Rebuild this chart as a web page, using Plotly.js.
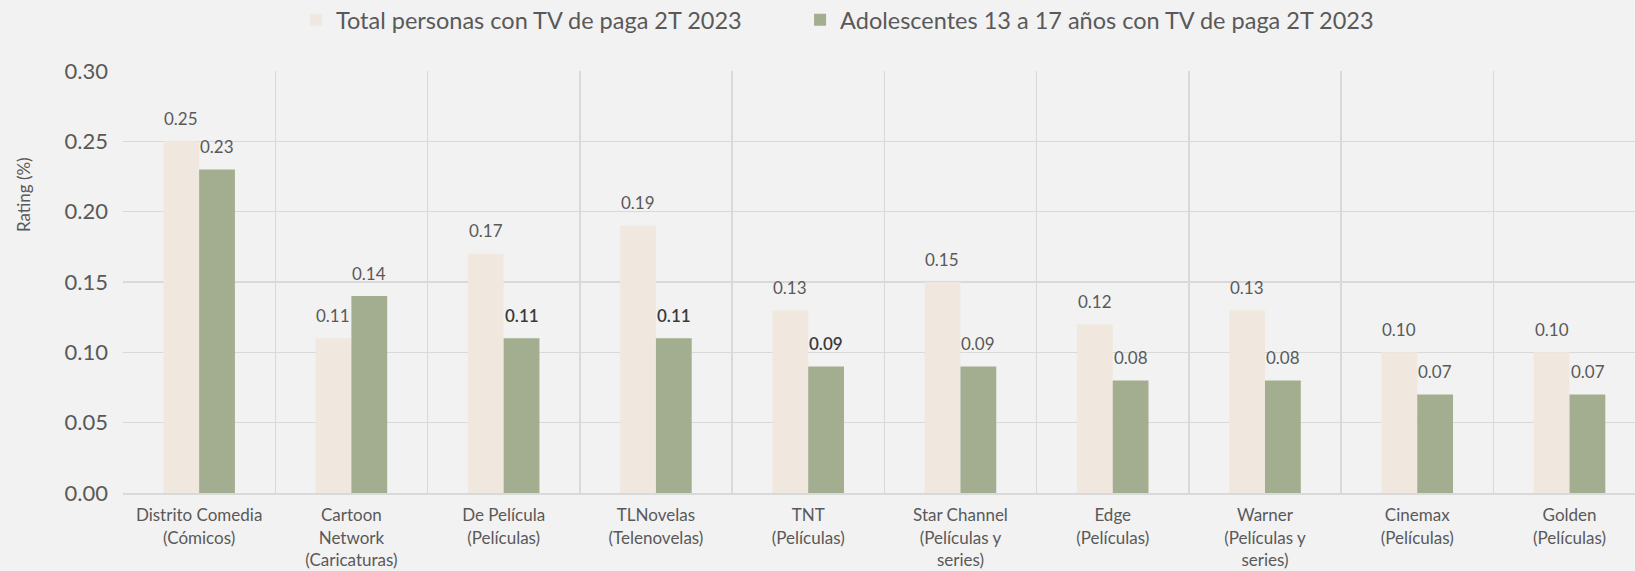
<!DOCTYPE html>
<html>
<head>
<meta charset="utf-8">
<script src="https://cdn.plot.ly/plotly-3.0.1.min.js"></script>
<style>
html,body{margin:0;padding:0;background:#f2f2f2;}
#chart{width:1635px;height:571px;}
</style>
</head>
<body>
<div id="chart"></div>
<script>
const categories = [
  "Distrito Comedia<br>(Cómicos)",
  "Cartoon<br>Network<br>(Caricaturas)",
  "De Película<br>(Películas)",
  "TLNovelas<br>(Telenovelas)",
  "TNT<br>(Películas)",
  "Star Channel<br>(Películas y<br>series)",
  "Edge<br>(Películas)",
  "Warner<br>(Películas y<br>series)",
  "Cinemax<br>(Películas)",
  "Golden<br>(Películas)"
];
const seriesNames = [
  "Total personas con TV de paga 2T 2023",
  "Adolescentes 13 a 17 años con TV de paga 2T 2023"
];
const totalValues = [0.25, 0.11, 0.17, 0.19, 0.13, 0.15, 0.12, 0.13, 0.10, 0.10];
const teenValues  = [0.23, 0.14, 0.11, 0.11, 0.09, 0.09, 0.08, 0.08, 0.07, 0.07];
const yTicks = [0, 0.05, 0.10, 0.15, 0.20, 0.25, 0.30];
const yTitle = "Rating (%)";

const colTotal = "#f0e8de";
const colTeen = "#a3ad8f";
const textCol = "#595959";
const fontFam = "Lato, 'Open Sans', sans-serif";

const traces = [
  {type:"bar", name:seriesNames[0], x:categories, y:totalValues,
   marker:{color:colTotal}, hoverinfo:"y", legend:"legend"},
  {type:"bar", name:seriesNames[1], x:categories, y:teenValues,
   marker:{color:colTeen}, hoverinfo:"y", legend:"legend2"},
  {type:"scatter", x:[], y:[], xaxis:"x2", showlegend:false, hoverinfo:"skip"}
];

const darkTeen = [2, 3, 4];
const annotations = [];
categories.forEach((c, i) => {
  annotations.push({x:c, y:totalValues[i], xref:"x", yref:"y", text:totalValues[i].toFixed(2),
    showarrow:false, xshift:-18, yshift:23, yanchor:"middle",
    font:{family:fontFam, size:17, color:textCol}});
  const dark = darkTeen.includes(i);
  annotations.push({x:c, y:teenValues[i], xref:"x", yref:"y", text:teenValues[i].toFixed(2),
    showarrow:false, xshift:18, yshift:23, yanchor:"middle",
    font:{family:fontFam, size:17, color:dark ? "#3a3a3a" : textCol, weight: dark ? 600 : 400}});
});
annotations.push({text:yTitle, xref:"paper", yref:"paper", x:0, y:0.706, xshift:-100,
  xanchor:"center", yanchor:"middle", textangle:-90, showarrow:false,
  font:{family:fontFam, size:17, color:textCol}});

const legendBase = {orientation:"h", y:0.965, yanchor:"middle", yref:"container", xanchor:"left",
  font:{family:fontFam, size:23.5, color:textCol}, itemwidth:30, bgcolor:"rgba(0,0,0,0)"};

const xr = [-0.5, 9.43];
const layout = {
  width:1635, height:571,
  paper_bgcolor:"#f2f2f2", plot_bgcolor:"#f2f2f2",
  margin:{l:123, r:0, t:71, b:78},
  font:{family:fontFam, color:textCol},
  barmode:"group", bargap:0.53, bargroupgap:0,
  showlegend:true,
  legend:Object.assign({}, legendBase, {x:0.1144}),
  legend2:Object.assign({}, legendBase, {x:0.4478}),
  xaxis:{type:"category", range:xr, showgrid:false, ticks:"", showline:true, linecolor:"#d9d9d9", linewidth:2,
    tickfont:{family:fontFam, size:17, color:textCol}, ticklabelstandoff:6, fixedrange:true},
  xaxis2:{overlaying:"x", type:"linear", range:xr, tick0:-0.5, dtick:1, showgrid:true, gridcolor:"#d9d9d9",
    gridwidth:1.5, showticklabels:false, ticks:"", zeroline:false, showline:false},
  yaxis:{range:[0, 0.30], tickvals:yTicks, tickformat:".2f", showgrid:true, gridcolor:"#d9d9d9", gridwidth:1.5,
    zeroline:false, ticks:"", tickfont:{family:fontFam, size:22, color:textCol}, ticklabelstandoff:14},
  annotations:annotations
};

Plotly.newPlot("chart", traces, layout, {displayModeBar:false, staticPlot:true});
</script>
</body>
</html>
